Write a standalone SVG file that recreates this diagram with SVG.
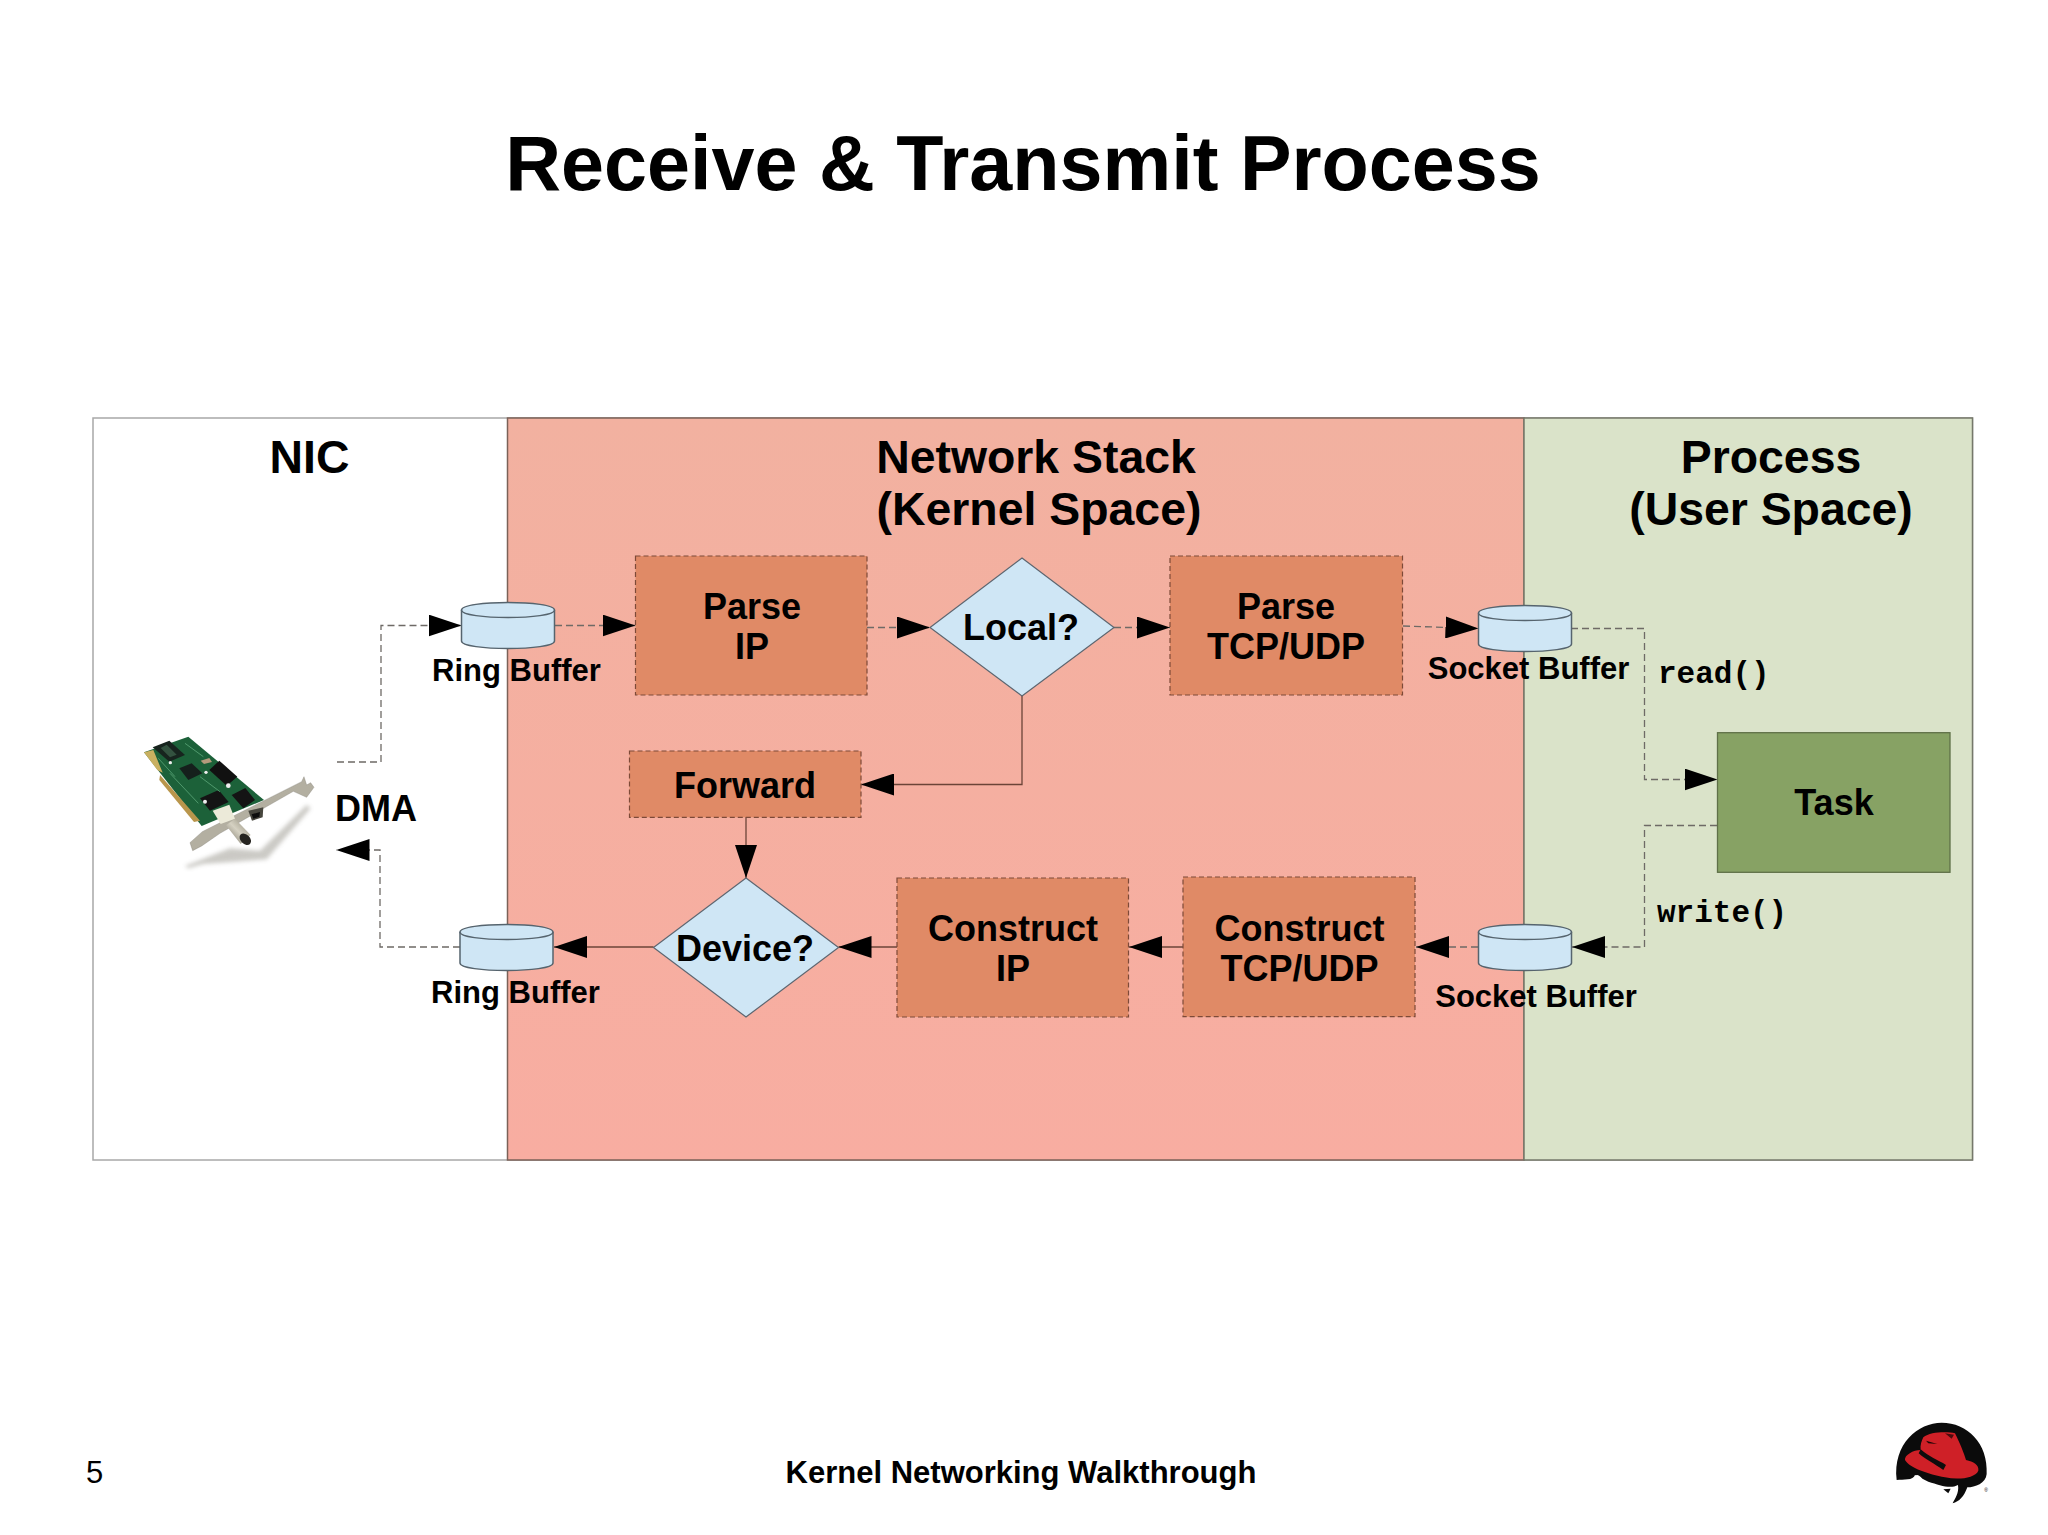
<svg xmlns="http://www.w3.org/2000/svg" width="2048" height="1535" viewBox="0 0 2048 1535">
<style>
text{font-family:"Liberation Sans",Arial,sans-serif;fill:#000}
.b{font-weight:700;text-anchor:middle}
.h{font-size:46.4px}.m{font-size:36px}.s{font-size:31px}
.c{font-family:"Liberation Mono","Courier New",monospace;font-weight:700;font-size:31px}
.box{fill:#e08a66;stroke:#7d4a38;stroke-width:1.2;stroke-dasharray:5 3}
.dia{fill:#cfe6f5;stroke:#5d6670;stroke-width:1.2}
.cyl{fill:#cfe6f5;stroke:#56646e;stroke-width:1.5}
.d{fill:none;stroke:#6e6a66;stroke-width:1.3;stroke-dasharray:7 4}
.l{fill:none;stroke:#6b4438;stroke-width:1.3}
</style>
<defs>
<linearGradient id="ns" x1="0" y1="0" x2="0" y2="1"><stop offset="0" stop-color="#f2b1a0"/><stop offset="1" stop-color="#f8ada1"/></linearGradient>
<linearGradient id="bnc" x1="0" y1="1" x2="1" y2="0"><stop offset="0" stop-color="#6f6b5e"/><stop offset=".5" stop-color="#d5d1c2"/><stop offset="1" stop-color="#85816f"/></linearGradient>
<marker id="a" markerUnits="userSpaceOnUse" markerWidth="33" markerHeight="22" viewBox="0 0 33 22" refX="33" refY="11" orient="auto"><path d="M0 0L33 11L0 22z" fill="#000"/></marker>
<g id="cy"><path class="cyl" d="M0 8C0 -2 93 -2 93 8V39C93 49 0 49 0 39z"/><path class="cyl" fill="none" d="M0 8C0 18 93 18 93 8"/></g>
<filter id="bl" x="-30%" y="-30%" width="160%" height="160%"><feGaussianBlur stdDeviation="7"/></filter>
</defs>
<rect width="2048" height="1535" fill="#fff"/>
<text id="title" class="b" x="1023" y="189.5" font-size="77.3">Receive &amp; Transmit Process</text>
<g id="panels">
<rect x="93" y="418" width="1879.5" height="742" fill="#fff" stroke="#a8a8a8" stroke-width="1.5"/>
<rect x="507.5" y="418" width="1016.5" height="742" fill="url(#ns)" stroke="#7b6258" stroke-width="1.5"/>
<rect x="1524" y="418" width="448.5" height="742" fill="#dae3c9" stroke="#75786a" stroke-width="1.5"/>
<text class="b h" x="309.5" y="473">NIC</text>
<text class="b h" x="1036" y="473">Network Stack</text>
<text class="b h" x="1039" y="525">(Kernel Space)</text>
<text class="b h" x="1771" y="473">Process</text>
<text class="b h" x="1771" y="525">(User Space)</text>
</g>
<g id="connectors">
<path class="d" d="M337 762H381V625.5H461.5" marker-end="url(#a)"/>
<path class="d" d="M555 625.5H635.5" marker-end="url(#a)"/>
<path class="d" d="M867 627.5H930" marker-end="url(#a)"/>
<path class="d" d="M1114 627.5H1170" marker-end="url(#a)"/>
<path class="d" d="M1403 626L1478.5 628.5" marker-end="url(#a)"/>
<path class="d" d="M1571 628.5H1644.5V779.5H1717.5" marker-end="url(#a)"/>
<path class="d" d="M1717 825.5H1644.5V947H1572" marker-end="url(#a)"/>
<path class="d" d="M1478 947H1416" marker-end="url(#a)"/>
<path class="l" d="M1183 947H1129" marker-end="url(#a)"/>
<path class="l" d="M897 947H838.5" marker-end="url(#a)"/>
<path class="l" d="M653.5 947H554" marker-end="url(#a)"/>
<path class="d" d="M460 947H380V850H336.5" marker-end="url(#a)"/>
<path class="l" d="M1022 696V784.5H861" marker-end="url(#a)"/>
<path class="l" d="M746 817V878" marker-end="url(#a)"/>
</g>
<g id="nic-card" transform="translate(120 720) scale(.3333)">
<path d="M195 438L330 385L420 392L560 255L572 265L440 418L345 425L250 432L205 445z" fill="#8d8a80" opacity=".45" filter="url(#bl)"/>
<path d="M72 97L205 50L432 240L245 318z" fill="#1c6139"/>
<path d="M72 97L100 90L128 158L112 150z" fill="#c9b060"/>
<path d="M120 165L240 302L222 306L118 180z" fill="#b9964c"/>
<path d="M98 82L148 62L195 105L148 125z" fill="#17241e"/>
<path d="M122 84L140 74L170 104L150 112z" fill="#33523f"/>
<path d="M178 145L215 130L247 160L205 180z" fill="#15201c"/>
<path d="M268 150L298 122L352 170L320 197z" fill="#111"/>
<path d="M335 225L376 204L405 240L370 265z" fill="#141414"/>
<path d="M240 235L296 210L326 246L270 272z" fill="#141414"/>
<path d="M242 122L268 114L276 126L252 132z" fill="#b49a7c"/>
<path d="M195 70L250 110M150 160L235 250M240 170L300 215M115 115L165 170" stroke="#4f9a6c" stroke-width="3" fill="none"/>
<circle cx="151" cy="128" r="5" fill="#eee"/><circle cx="325" cy="197" r="7" fill="#eee"/><circle cx="255" cy="245" r="6" fill="#eee"/><circle cx="258" cy="157" r="5" fill="#eee"/>
<path d="M210 368L247 335L545 185L552 170L560 195L572 188L582 202L560 232L520 214L300 340L245 378L218 392z" fill="#b3afa1" stroke="#75726a"/>
<path d="M278 272L328 254L345 296L302 312z" fill="#ecead9"/>
<path d="M385 272L430 262L428 292L396 302z" fill="#46453d"/>
<path d="M395 283L420 276L418 290L400 296z" fill="#0d0d0d"/>
<path d="M318 316L345 296L392 345L362 372z" fill="url(#bnc)"/>
<ellipse cx="376" cy="358" rx="14" ry="20" transform="rotate(-45 376 358)" fill="#26241f"/>
</g>
<g id="ring-rx"><use href="#cy" x="461.5" y="602"/><text class="b s" x="516.5" y="680.5">Ring Buffer</text></g>
<g id="parse-ip"><rect class="box" x="635.5" y="556" width="231.5" height="139"/><text class="b m" x="752" y="618.5">Parse</text><text class="b m" x="752" y="659">IP</text></g>
<g id="local"><path class="dia" d="M1022 558L1114 627.5L1022 696L930 627.5z"/><text class="b m" x="1021" y="640">Local?</text></g>
<g id="parse-tcp"><rect class="box" x="1170" y="556" width="232.5" height="139"/><text class="b m" x="1286" y="618.5">Parse</text><text class="b m" x="1286" y="659">TCP/UDP</text></g>
<g id="socket-rx"><use href="#cy" x="1478.5" y="605"/><text class="b s" x="1528.5" y="679">Socket Buffer</text></g>
<g id="task"><rect x="1717.5" y="732.7" width="232.5" height="139.6" fill="#87a264" stroke="#5f7048" stroke-width="1.3"/><text class="b m" x="1834" y="815">Task</text></g>
<text class="c" x="1658" y="683">read()</text>
<text class="c" x="1657" y="922">write()</text>
<g id="forward"><rect class="box" x="629.5" y="751" width="231.5" height="66.3"/><text class="b m" x="745" y="798">Forward</text></g>
<g id="device"><path class="dia" d="M746 878L838.5 947.5L746 1017L653.5 947.5z"/><text class="b m" x="745" y="961">Device?</text></g>
<g id="construct-ip"><rect class="box" x="897" y="878" width="231.5" height="139"/><text class="b m" x="1013" y="940.5">Construct</text><text class="b m" x="1013" y="981">IP</text></g>
<g id="construct-tcp"><rect class="box" x="1183" y="877" width="232" height="139.7"/><text class="b m" x="1299.5" y="940.5">Construct</text><text class="b m" x="1299.5" y="981">TCP/UDP</text></g>
<g id="socket-tx"><use href="#cy" x="1478.5" y="924"/><text class="b s" x="1536" y="1007">Socket Buffer</text></g>
<g id="ring-tx"><use href="#cy" x="460" y="924"/><text class="b s" x="515.5" y="1003">Ring Buffer</text></g>
<text class="b m" x="376" y="821">DMA</text>
<g id="footer">
<text x="86" y="1482.5" font-size="31">5</text>
<text class="b s" x="1021" y="1482.5">Kernel Networking Walkthrough</text>
<g id="logo" transform="translate(1860 1400) scale(.3333)">
<path d="M110 240C98 130 175 68 245 68C322 68 385 130 380 222C378 250 345 262 322 262C312 290 298 305 278 310C284 296 298 280 294 255C270 268 240 255 205 245L165 225C160 242 130 238 110 240z" fill="#0b0b0b"/>
<path d="M165 228C175 218 185 235 195 245C185 258 170 255 165 228z" fill="#fff"/>
<path d="M250 268L272 266L265 280z" fill="#0b0b0b"/>
<path d="M190 112C210 95 262 95 285 100C300 130 312 160 318 180C340 185 358 195 355 212C345 235 295 240 255 232C205 222 150 205 135 180C133 165 160 150 182 150C180 135 185 122 190 112z" fill="#cf2027"/>
<path d="M182 148C205 170 235 180 258 195L250 210C225 192 195 178 176 160z" fill="#0d0d0d"/>
<path d="M198 122L232 132L205 130z" fill="#1a0505"/><path d="M255 100L282 104L275 116z" fill="#4a0c0e"/>
<text x="373" y="276" font-size="15" fill="#555">®</text>
</g>
</g>
</svg>
